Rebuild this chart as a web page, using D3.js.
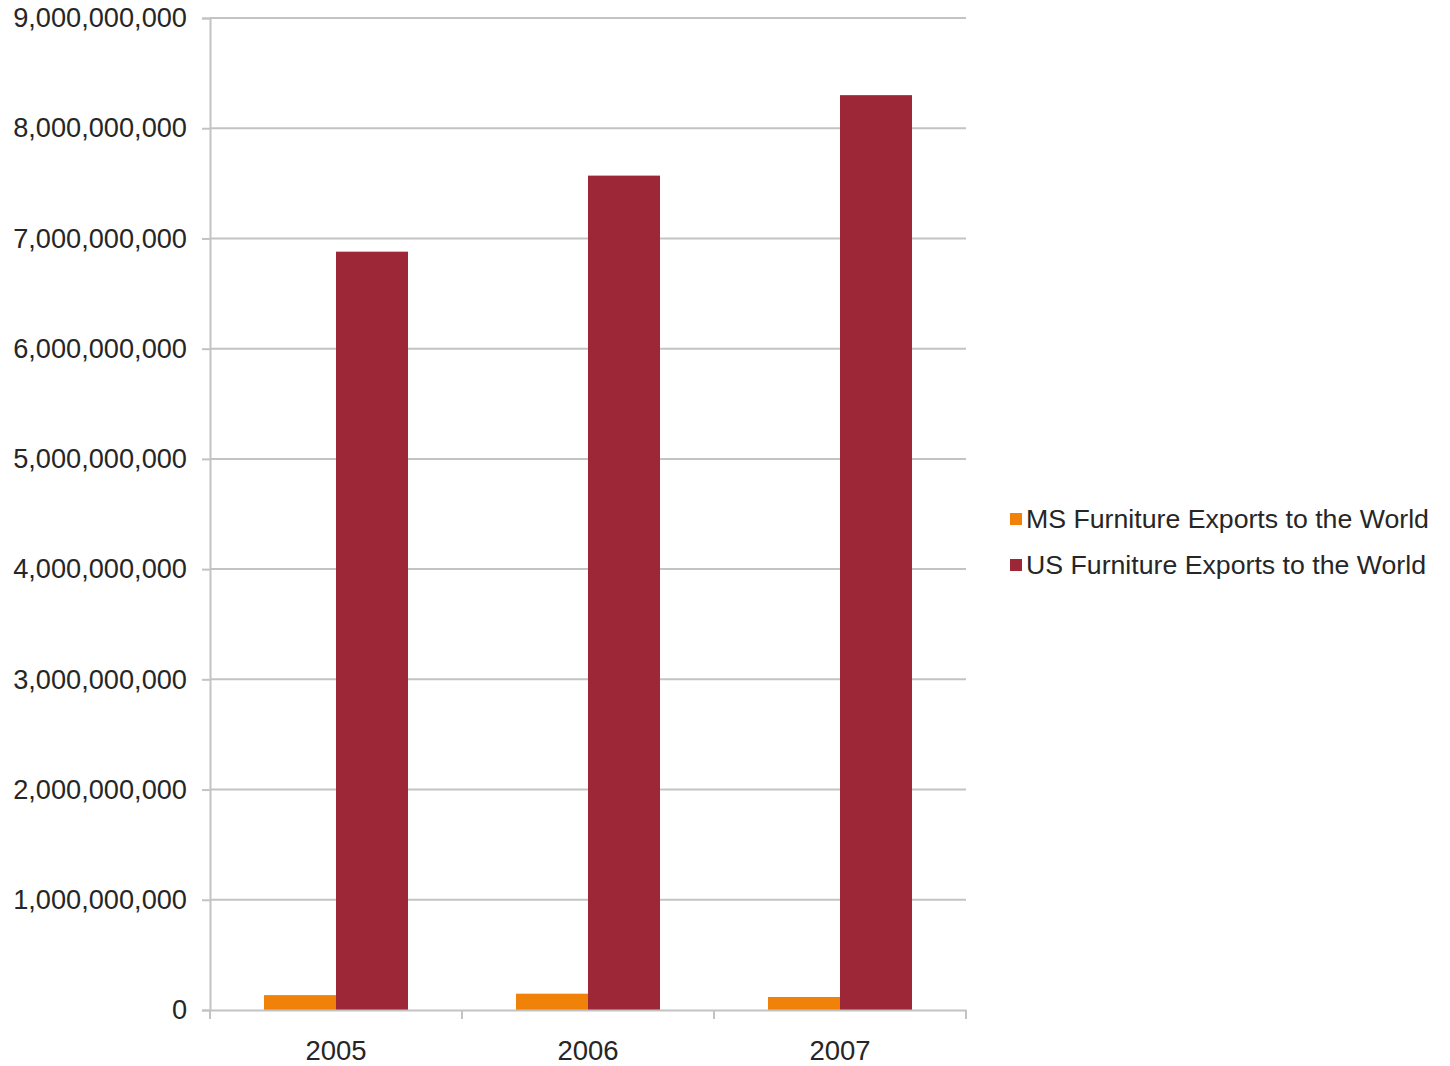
<!DOCTYPE html>
<html>
<head>
<meta charset="utf-8">
<script src="https://cdn.jsdelivr.net/npm/d3@7"></script>
<style>
  body { margin: 0; background: #fff; }
  text { font-family: "Liberation Sans", Arial, sans-serif; fill: #262626; }
</style>
</head>
<body>
<div id="chart-area"></div>
<script>
var years = ["2005", "2006", "2007"];
var seriesNames = ["MS Furniture Exports to the World", "US Furniture Exports to the World"];
var msExports = [135000000, 148000000, 118000000];
var usExports = [6880000000, 7570000000, 8300000000];
var yTicks = [0, 1e9, 2e9, 3e9, 4e9, 5e9, 6e9, 7e9, 8e9, 9e9];
var colors = ["#f08209", "#9e2737"];

var chartWidth = 1450, chartHeight = 1066;
var plotLeft = 210, plotRight = 966, plotTop = 18, plotBottom = 1010;

var svg = d3.select("#chart-area").append("svg")
    .attr("width", chartWidth)
    .attr("height", chartHeight);

var x = d3.scaleBand().domain(years).range([plotLeft, plotRight]).padding(0);
var xInner = d3.scaleBand().domain(seriesNames).range([0, x.bandwidth()])
    .paddingInner(0).paddingOuter(0.75);
var y = d3.scaleLinear().domain([0, 9e9]).range([plotBottom, plotTop]);

// gridlines
svg.append("g").selectAll("line").data(yTicks.slice(1)).enter()
    .append("line")
    .attr("x1", plotLeft).attr("x2", plotRight)
    .attr("y1", function(d){ return y(d); })
    .attr("y2", function(d){ return y(d); })
    .attr("stroke", "#c3c3c3").attr("stroke-width", 2);

// y axis
var yAxis = svg.append("g")
    .attr("transform", "translate(" + plotLeft + ",0)")
    .call(d3.axisLeft(y).tickValues(yTicks).tickFormat(d3.format(",")).tickSize(8).tickPadding(15));
yAxis.select(".domain").attr("stroke", "#c3c3c3").attr("stroke-width", 2);
yAxis.selectAll(".tick line").attr("stroke", "#c3c3c3").attr("stroke-width", 2);
yAxis.selectAll("text").attr("font-size", 27.2).attr("fill", "#262626")
    .attr("font-family", "Liberation Sans, Arial, sans-serif");

// bars
var data = years.map(function(yr, i){
    return [{s: seriesNames[0], v: msExports[i], c: 0}, {s: seriesNames[1], v: usExports[i], c: 1}];
});
var groups = svg.append("g").selectAll("g").data(data).enter()
    .append("g")
    .attr("transform", function(d, i){ return "translate(" + x(years[i]) + ",0)"; });
groups.selectAll("rect").data(function(d){ return d; }).enter()
    .append("rect")
    .attr("x", function(d){ return xInner(d.s); })
    .attr("width", xInner.bandwidth())
    .attr("y", function(d){ return y(d.v); })
    .attr("height", function(d){ return plotBottom - y(d.v); })
    .attr("fill", function(d){ return colors[d.c]; });

// x axis
var xAxis = svg.append("g")
    .attr("transform", "translate(0," + plotBottom + ")")
    .call(d3.axisBottom(x).tickSize(0).tickPadding(30));
xAxis.select(".domain").attr("stroke", "#c3c3c3").attr("stroke-width", 2);
xAxis.selectAll("text").attr("font-size", 27.5).attr("fill", "#262626")
    .attr("font-family", "Liberation Sans, Arial, sans-serif");
// category separator ticks
svg.append("g").selectAll("line").data(years.concat(["end"])).enter()
    .append("line")
    .attr("x1", function(d, i){ return plotLeft + i * x.step(); })
    .attr("x2", function(d, i){ return plotLeft + i * x.step(); })
    .attr("y1", plotBottom).attr("y2", plotBottom + 9)
    .attr("stroke", "#c3c3c3").attr("stroke-width", 2);

// legend
var legend = svg.append("g").attr("transform", "translate(1010,519)");
var item = legend.selectAll("g").data(seriesNames).enter()
    .append("g")
    .attr("transform", function(d, i){ return "translate(0," + (i * 46) + ")"; });
item.append("rect")
    .attr("x", 0).attr("y", -6).attr("width", 12).attr("height", 12)
    .attr("fill", function(d, i){ return colors[i]; });
item.append("text")
    .attr("x", 16).attr("y", 0).attr("dy", "0.35em")
    .attr("font-size", 26.7)
    .text(function(d){ return d; });
</script>
</body>
</html>
